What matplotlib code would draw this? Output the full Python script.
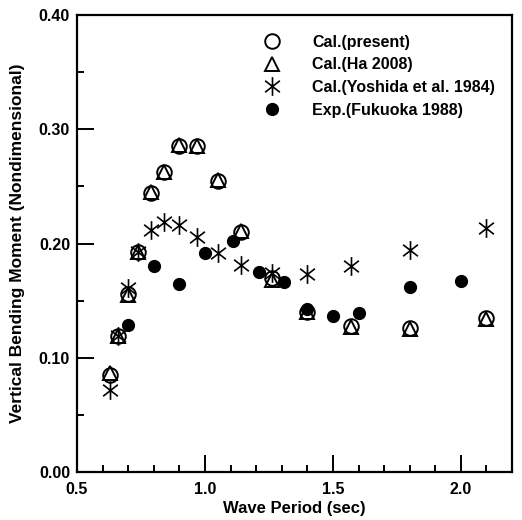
import matplotlib
matplotlib.use("Agg")
import matplotlib.pyplot as plt
import numpy as np
from matplotlib.path import Path
from matplotlib.ticker import MultipleLocator, FormatStrFormatter

plt.rcParams["font.family"] = ["Liberation Sans", "DejaVu Sans"]
plt.rcParams["font.weight"] = "bold"

# wave periods shared by the three calculations
period_cal = [0.63, 0.66, 0.70, 0.74, 0.79, 0.84, 0.90, 0.97, 1.05, 1.14,
              1.26, 1.40, 1.57, 1.80, 2.10]
present = [0.085, 0.119, 0.156, 0.193, 0.244, 0.263, 0.285, 0.285, 0.255, 0.210,
           0.170, 0.140, 0.128, 0.126, 0.135]
ha2008 = [0.087, 0.119, 0.155, 0.193, 0.245, 0.263, 0.286, 0.285, 0.256, 0.211,
          0.168, 0.140, 0.127, 0.125, 0.134]
yoshida = [0.072, 0.119, 0.161, 0.193, 0.212, 0.219, 0.216, 0.206, 0.192, 0.181,
           0.174, 0.173, 0.180, 0.194, 0.214]

# experiment
period_exp = [0.70, 0.80, 0.90, 1.00, 1.11, 1.21, 1.31, 1.40, 1.50, 1.60, 1.80, 2.00]
fukuoka = [0.129, 0.180, 0.165, 0.192, 0.202, 0.175, 0.166, 0.143, 0.137, 0.139,
           0.162, 0.167]

# asterisk: one vertical bar and two diagonals
ang = np.deg2rad(38)
c, s = np.cos(ang), np.sin(ang)
star = Path(
    [(0, -1), (0, 1), (-c, -s), (c, s), (-c, s), (c, -s)],
    [Path.MOVETO, Path.LINETO] * 3,
)

fig = plt.figure(figsize=(5.22, 5.20), dpi=100)
ax = fig.add_axes([0.1475, 0.0923, 0.8335, 0.8787])

ax.plot(period_cal, present, "o", ls="none", mfc="white", mec="black", mew=1.4,
        ms=10.5, label="Cal.(present)", zorder=3)
ax.plot(period_cal, ha2008, "^", ls="none", mfc="none", mec="black", mew=1.4,
        ms=9.5, label="Cal.(Ha 2008)", zorder=4)
ax.plot(period_cal, yoshida, marker=star, ls="none", mfc="none", mec="black",
        mew=1.2, ms=13.5, label="Cal.(Yoshida et al. 1984)", zorder=5)
ax.plot(period_exp, fukuoka, "o", ls="none", color="black", ms=8.5,
        label="Exp.(Fukuoka 1988)", zorder=6)

ax.set_xlim(0.5, 2.2)
ax.set_ylim(0.0, 0.40)
ax.xaxis.set_major_locator(MultipleLocator(0.5))
ax.xaxis.set_minor_locator(MultipleLocator(0.1))
ax.yaxis.set_major_locator(MultipleLocator(0.1))
ax.yaxis.set_minor_locator(MultipleLocator(0.05))
ax.xaxis.set_major_formatter(FormatStrFormatter("%.1f"))
ax.yaxis.set_major_formatter(FormatStrFormatter("%.2f"))
ax.tick_params(which="both", direction="in", top=False, right=False,
               labelsize=11.5, width=1.4)
ax.tick_params(which="major", length=12, pad=5)
ax.tick_params(axis="x", which="major", pad=7)
ax.tick_params(which="minor", length=5)
for sp in ax.spines.values():
    sp.set_linewidth(1.6)

ax.set_xlabel("Wave Period (sec)", fontsize=12, fontweight="bold", labelpad=3)
ax.set_ylabel("Vertical Bending Moment (Nondimensional)", fontsize=12.5,
              fontweight="bold", labelpad=10)

ax.legend(loc="upper left", bbox_to_anchor=(0.383, 0.985), frameon=False,
          fontsize=11.5, handletextpad=1.5, labelspacing=0.48, borderpad=0.3)

fig.savefig("out.png", dpi=100)
